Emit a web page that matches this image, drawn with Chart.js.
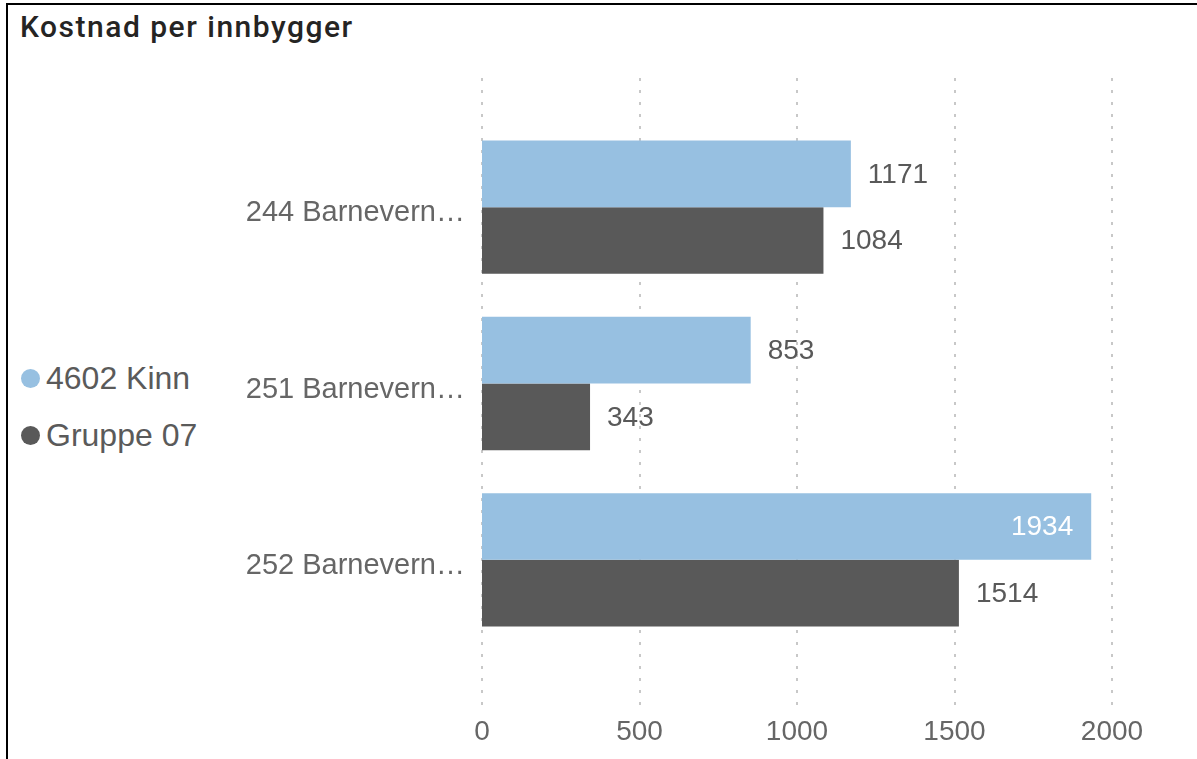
<!DOCTYPE html>
<html>
<head>
<meta charset="utf-8">
<script src="https://cdn.jsdelivr.net/npm/chart.js@4/dist/chart.umd.min.js"></script>
<style>
  html, body { margin: 0; padding: 0; background: #fff; overflow: hidden; }
  #frame {
    position: absolute; left: 6px; top: 3px; width: 1300px; height: 800px;
    border-top: 2px solid #000; border-left: 2px solid #000;
  }
  #title {
    position: absolute; left: 20px; top: 9px;
    font-family: Roboto, sans-serif; font-weight: 500; font-size: 30px;
    letter-spacing: 1.5px; color: #252423; white-space: nowrap;
  }
  #legend { position: absolute; left: 21px; top: 350px; font-family: "Liberation Sans", Arial, sans-serif; }
  .lg-item { display: flex; align-items: center; height: 57px; font-size: 32px; color: #5a5a5a; }
  .lg-dot { width: 19px; height: 19px; border-radius: 50%; margin-right: 6px; }
  #chart { position: absolute; left: 8px; top: 60px; }
</style>
</head>
<body>
<div id="frame"></div>
<div id="title">Kostnad per innbygger</div>
<div id="legend"></div>
<canvas id="chart" width="1189" height="699"></canvas>
<script>
// data
const categories = ['244 Barnevern…', '251 Barnevern…', '252 Barnevern…'];
const seriesNames = ['4602 Kinn', 'Gruppe 07'];
const kinnValues = [1171, 853, 1934];
const gruppeValues = [1084, 343, 1514];
const xTicks = [0, 500, 1000, 1500, 2000];

const colors = ['#97c0e1', '#595959'];
const textFont = '"Liberation Sans", Arial, sans-serif';

// dotted vertical grid lines, a bit longer than the plot area
const dottedGrid = {
    id: 'dottedGrid',
    beforeDatasetsDraw(chart) {
        const ctx = chart.ctx;
        const area = chart.chartArea;
        const xs = chart.scales.x;
        ctx.save();
        ctx.strokeStyle = '#c8c8c8';
        ctx.lineWidth = 2;
        ctx.setLineDash([3, 9]);
        xs.ticks.forEach(t => {
            const px = Math.round(xs.getPixelForValue(t.value));
            ctx.beginPath();
            ctx.moveTo(px, area.top - 41);
            ctx.lineTo(px, area.bottom + 57);
            ctx.stroke();
        });
        ctx.restore();
    }
};

// value labels at bar ends (inside in white if there's no room)
const valueLabels = {
    id: 'valueLabels',
    afterDatasetsDraw(chart) {
        const ctx = chart.ctx;
        const area = chart.chartArea;
        ctx.save();
        ctx.font = '28px ' + textFont;
        ctx.textBaseline = 'middle';
        chart.data.datasets.forEach((ds, i) => {
            const meta = chart.getDatasetMeta(i);
            meta.data.forEach((bar, j) => {
                const txt = String(ds.data[j]);
                const w = ctx.measureText(txt).width;
                if (bar.x + 17 + w > area.right) {
                    ctx.fillStyle = '#ffffff';
                    ctx.textAlign = 'right';
                    ctx.fillText(txt, bar.x - 18, bar.y + 1);
                } else {
                    ctx.fillStyle = '#595959';
                    ctx.textAlign = 'left';
                    ctx.fillText(txt, bar.x + 17, bar.y + 1);
                }
            });
        });
        ctx.restore();
    }
};

const chart = new Chart(document.getElementById('chart'), {
    type: 'bar',
    data: {
        labels: categories,
        datasets: [
            { label: seriesNames[0], data: kinnValues, backgroundColor: colors[0] },
            { label: seriesNames[1], data: gruppeValues, backgroundColor: colors[1] }
        ]
    },
    options: {
        indexAxis: 'y',
        responsive: false,
        animation: false,
        devicePixelRatio: 1,
        categoryPercentage: 0.756,
        barPercentage: 1,
        layout: { padding: { top: 59, right: 85, left: 0, bottom: 0 } },
        plugins: {
            legend: { display: false },
            tooltip: { enabled: false }
        },
        scales: {
            x: {
                min: 0,
                max: 2000,
                afterBuildTicks: s => { s.ticks = xTicks.map(v => ({ value: v })); },
                afterFit: s => { s.height = 111; s.paddingLeft = 0; s.paddingRight = 0; },
                grid: { display: false, drawTicks: false },
                border: { display: false },
                ticks: {
                    padding: 67,
                    color: '#666666',
                    font: { family: textFont, size: 28 },
                    maxRotation: 0,
                    callback: v => String(v)
                }
            },
            y: {
                afterFit: s => { s.width = 474; s.paddingTop = 0; s.paddingBottom = 0; },
                grid: { display: false, drawTicks: false },
                border: { display: false },
                ticks: {
                    padding: 17,
                    labelOffset: 6,
                    color: '#666666',
                    font: { family: textFont, size: 29 }
                }
            }
        }
    },
    plugins: [dottedGrid, valueLabels]
});

// legend built from the chart's datasets
document.getElementById('legend').innerHTML = chart.data.datasets.map(ds =>
    `<div class="lg-item"><span class="lg-dot" style="background:${ds.backgroundColor}"></span>${ds.label}</div>`
).join('');
</script>
</body>
</html>
